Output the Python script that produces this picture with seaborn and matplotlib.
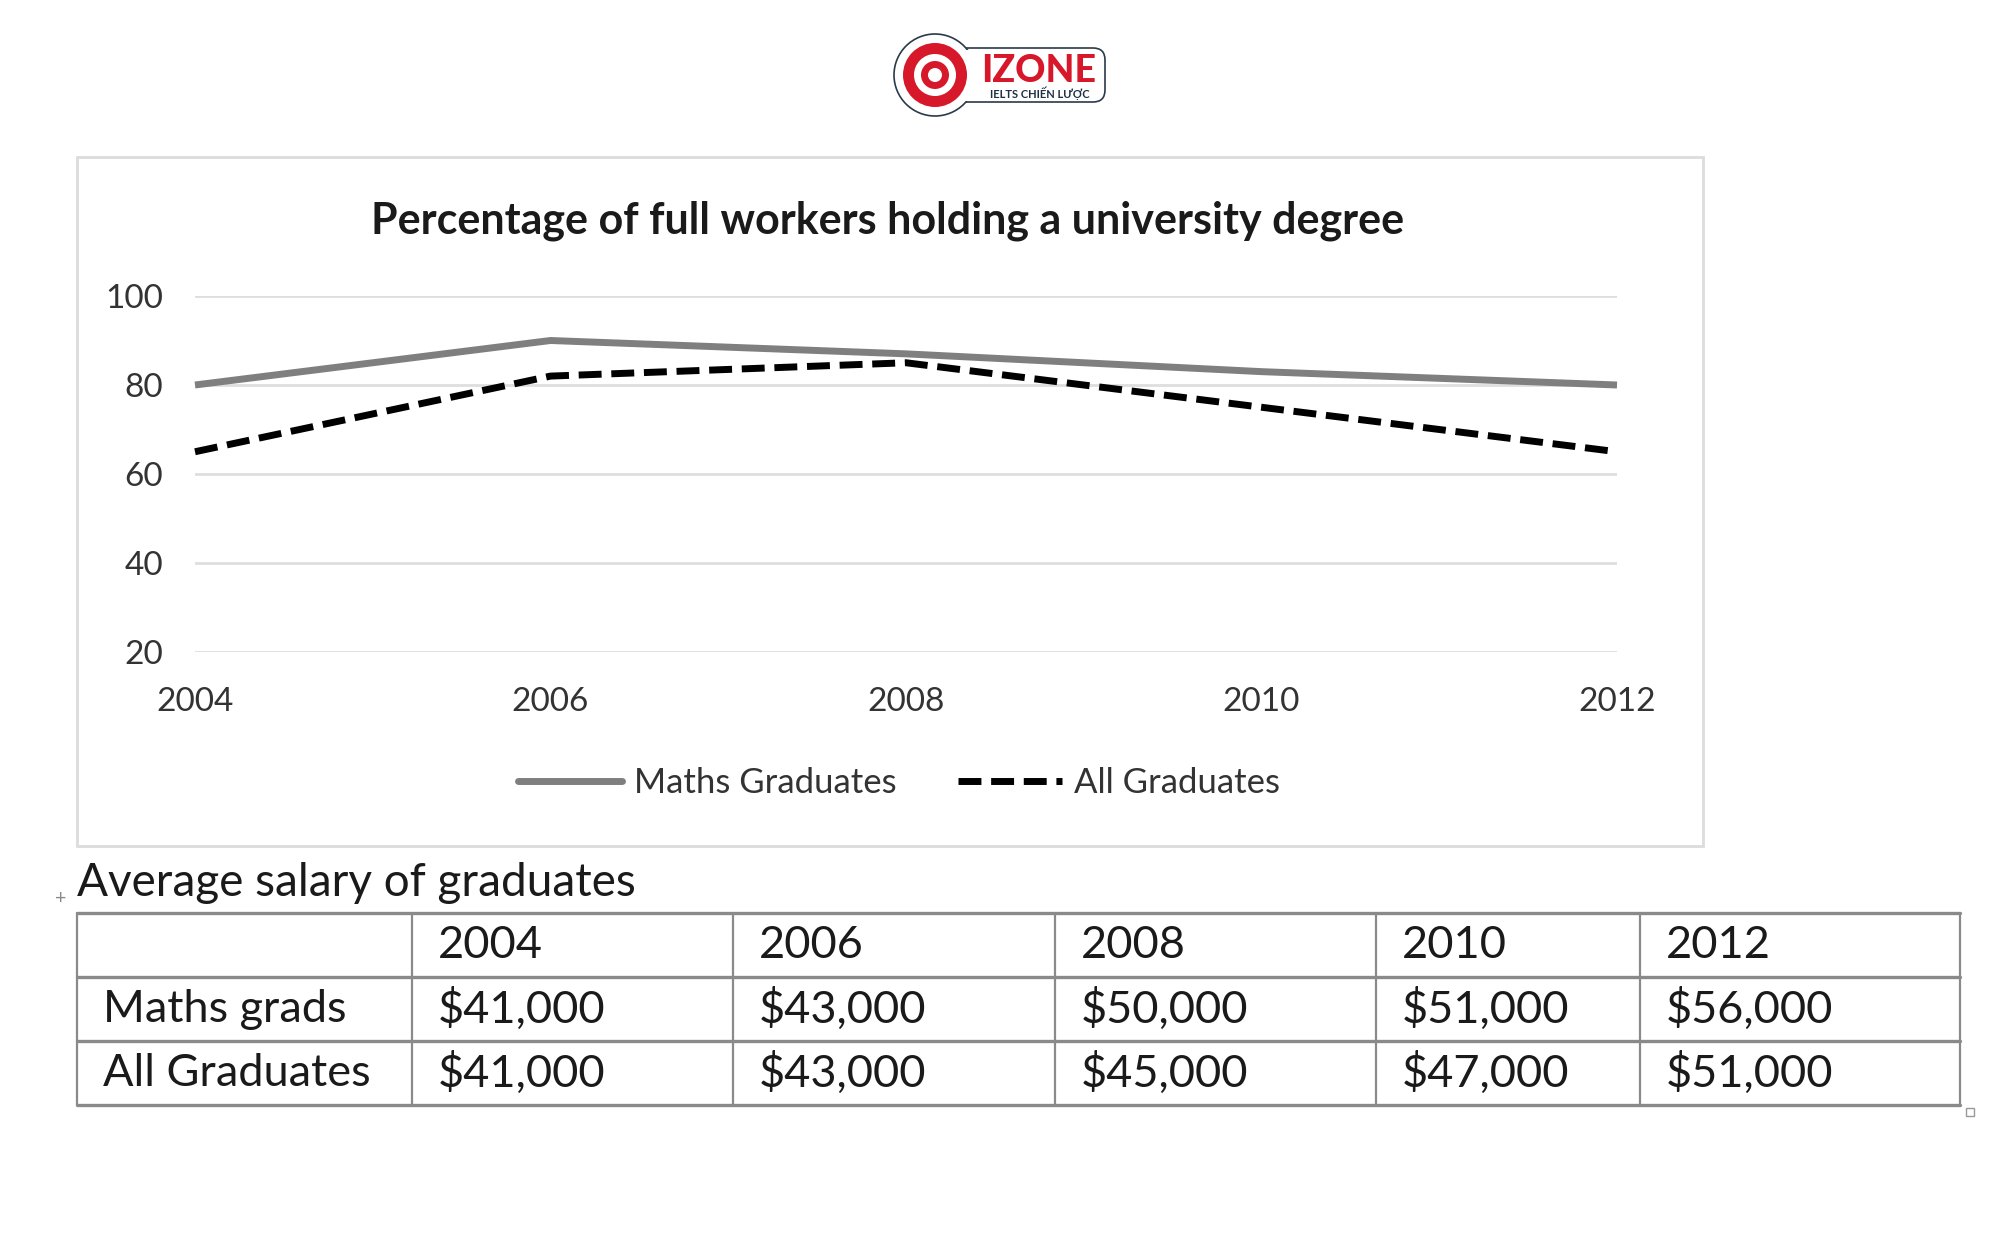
import matplotlib
matplotlib.use("Agg")
import matplotlib.pyplot as plt
import matplotlib.patches as mpatches
from matplotlib.lines import Line2D
import seaborn as sns
import pandas as pd

# ---------------- data ----------------
years = [2004, 2006, 2008, 2010, 2012]
maths_pct = [80, 90, 87, 83, 80]
all_pct = [65, 82, 85, 75, 65]
y_ticks = [20, 40, 60, 80, 100]
series_names = ["Maths Graduates", "All Graduates"]
chart_title = "Percentage of full workers holding a university degree"

table_title = "Average salary of graduates"
table_years = ["2004", "2006", "2008", "2010", "2012"]
row_labels = ["Maths grads", "All Graduates"]
maths_salary = ["$41,000", "$43,000", "$50,000", "$51,000", "$56,000"]
all_salary = ["$41,000", "$43,000", "$45,000", "$47,000", "$51,000"]

sns.set_theme(style="white")
FONT = ["Lato", "DejaVu Sans"]
plt.rcParams["font.family"] = FONT

W, H = 2000, 1250
fig = plt.figure(figsize=(20, 12.5), dpi=100)
fig.patch.set_facecolor("white")

# pixel overlay for background decorations
bg = fig.add_axes([0, 0, 1, 1], zorder=0)
bg.set_xlim(0, W)
bg.set_ylim(H, 0)
bg.axis("off")

# chart panel
bg.add_patch(mpatches.Rectangle((77, 157), 1626, 689, facecolor="white",
                                edgecolor="#dcdcdc", lw=2))

# ---------------- logo ----------------
cx, cy = 935, 75
badge = mpatches.FancyBboxPatch((945, 48), 160, 54, boxstyle="round,pad=0,rounding_size=12",
                                facecolor="white", edgecolor="#2b3a4a", lw=1.2, zorder=2)
bg.add_patch(badge)
bg.add_patch(mpatches.Circle((cx, cy), 41, facecolor="white", edgecolor="#2b3a4a", lw=1.2, zorder=2))
bg.add_patch(mpatches.Rectangle((950, 49.5), 40, 51, facecolor="white", edgecolor="none", zorder=3))
bg.add_patch(mpatches.Circle((cx, cy), 32, facecolor="#d7182a", edgecolor="none", zorder=4))
bg.add_patch(mpatches.Circle((cx, cy), 21, facecolor="white", edgecolor="none", zorder=5))
bg.add_patch(mpatches.Circle((cx, cy), 14, facecolor="#d7182a", edgecolor="none", zorder=6))
bg.add_patch(mpatches.Circle((cx, cy), 7, facecolor="white", edgecolor="none", zorder=7))
bg.text(1039, 82, "IZONE", color="#d7182a", fontsize=27, fontweight="black",
        ha="center", va="baseline", zorder=8)
bg.text(1040, 86, "IELTS CHIẾN LƯỢC", color="#1f3044", fontsize=8, fontweight="bold",
        ha="center", va="top", zorder=8)

# ---------------- line chart ----------------
left, right, top, bottom = 195, 1617, 296, 652
ax = fig.add_axes([left / W, 1 - bottom / H, (right - left) / W, (bottom - top) / H], zorder=2)
ax.set_facecolor("none")

LW = 5
DASH = (0, (3.3, 1.4))
df = pd.DataFrame({"year": years, "maths": maths_pct, "all": all_pct})
sns.lineplot(data=df, x="year", y="maths", ax=ax, color="#7f7f7f", lw=LW,
             solid_capstyle="butt", label=series_names[0], legend=False, zorder=3)
sns.lineplot(data=df, x="year", y="all", ax=ax, color="#000000", lw=LW,
             linestyle=DASH, label=series_names[1], legend=False, zorder=4)

ax.set_xlim(years[0], years[-1])
ax.set_ylim(20, 100)
ax.set_yticks(y_ticks)
ax.set_xticks(years)
ax.set_yticklabels([str(t) for t in y_ticks], fontsize=24, color="#333333")
ax.set_xticklabels([str(y) for y in years], fontsize=24, color="#333333")
ax.tick_params(axis="y", length=0, pad=23)
ax.tick_params(axis="x", length=0, pad=25)
ax.grid(axis="y", color="#dedede", lw=2)
ax.grid(axis="x", visible=False)
for s in ax.spines.values():
    s.set_visible(False)
ax.set_xlabel("")
ax.set_ylabel("")
for l in ax.get_lines():
    l.set_clip_on(False)

fig.text(888 / W, 1 - 221 / H, chart_title, fontsize=31, fontweight="bold",
         color="#1a1a1a", ha="center", va="center")

handles = [Line2D([], [], color="#7f7f7f", lw=LW),
           Line2D([], [], color="#000000", lw=LW, linestyle=DASH)]
fig.legend(handles, series_names, loc="center", bbox_to_anchor=(899 / W, 1 - 783 / H),
           ncol=2, frameon=False, fontsize=25, handlelength=3.0, handletextpad=0.35,
           columnspacing=1.75, labelcolor="#333333")

# ---------------- table ----------------
bg.text(77, 883, table_title, fontsize=33, color="#1a1a1a", ha="left", va="center")
bg.text(61, 898, "+", fontsize=14, color="#888888", ha="center", va="center")

col_x = [77, 412, 733, 1055, 1376, 1640, 1960]
row_y = [913, 977, 1041, 1105]
lc = "#8a8a8a"
for yy in row_y:
    bg.plot([col_x[0], col_x[-1]], [yy, yy], color=lc, lw=2.4)
for xx in col_x:
    bg.plot([xx, xx], [row_y[0], row_y[-1]], color=lc, lw=1.6)
bg.add_patch(mpatches.Rectangle((1966, 1108), 8, 8, facecolor="white", edgecolor="#999999", lw=1))

rows = [[""] + table_years,
        [row_labels[0]] + maths_salary,
        [row_labels[1]] + all_salary]
for r, row in enumerate(rows):
    yc = (row_y[r] + row_y[r + 1]) / 2
    for c, txt in enumerate(row):
        bg.text(col_x[c] + 26, yc, txt, fontsize=32.5, color="#1a1a1a", ha="left", va="center")

fig.savefig("out.png", dpi=100, facecolor="white")
